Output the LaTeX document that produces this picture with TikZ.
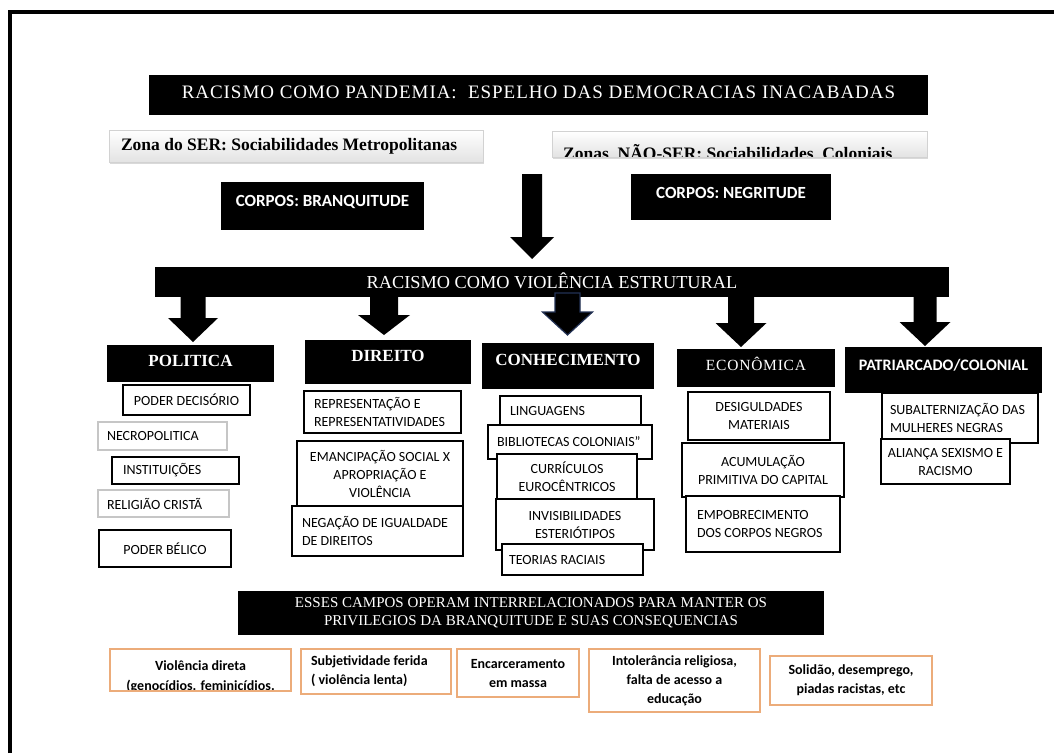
\documentclass[tikz,border=0pt]{standalone}
\usepackage{fontspec}
\setmainfont{Liberation Serif}
\newfontfamily\calibri{Carlito}
\newfontfamily\spacedserif[LetterSpace=5]{Liberation Serif}
\usetikzlibrary{calc, shadows}

\definecolor{conseqline}{RGB}{236,172,122}
\definecolor{arrowblue}{RGB}{35,50,85}

\begin{document}
\begin{tikzpicture}[
    x=1pt, y=-1pt,
    % Styles
    boxsize/.style 2 args={minimum width=#1pt, minimum height=#2pt},
    titlebox/.style={ % black boxes with white text
        rectangle, fill=black, text=white, inner sep=0pt, outer sep=0pt
    },
    field/.style={ % black field headings
        titlebox, font=\bfseries\fontsize{17}{20}\selectfont
    },
    zone/.style={ % shaded zone labels
        rectangle, draw=gray!35, top color=white, bottom color=gray!22,
        drop shadow={shadow xshift=1pt, shadow yshift=-2pt, opacity=0.3},
        inner sep=0pt, font=\bfseries\fontsize{17.5}{20}\selectfont
    },
    item/.style={ % white boxes below the fields
        rectangle, draw, line width=1.1pt, fill=white, inner sep=0pt, outer sep=0pt,
        align=center, font=\calibri\fontsize{14}{18}\selectfont
    },
    itemleft/.style 2 args={ % left aligned item
        item, align=flush left, inner xsep=#1, text width=#2
    },
    conseq/.style={ % orange consequence boxes
        rectangle, draw=conseqline, line width=1.5pt, fill=white, inner sep=0pt,
        align=center, font=\calibri\bfseries\fontsize{14}{19}\selectfont
    },
    inside/.style={ % text clipped by its box
        inner sep=0pt, minimum width=0pt, minimum height=0pt
    }
]

    \useasboundingbox (0,0) rectangle (1054,753);

    % Frame
    \draw[line width=4pt] (9.5,753) -- (9.5,11.5) -- (1054,11.5);

    % Title and zones
    \node[titlebox, boxsize={779}{40}, font=\spacedserif\fontsize{19}{21}\selectfont,
        text height=12.5pt, text depth=5pt] (title) at (538.5,95)
        {RACISMO COMO PANDEMIA:\ \ ESPELHO DAS DEMOCRACIAS INACABADAS};
    \node[zone, inner xsep=12pt, text width=350pt, align=flush left, minimum height=32pt] (zonaSer)
        at (296,146) {Zona do SER: Sociabilidades Metropolitanas};
    \node[zone, boxsize={375}{26}, path picture={
        \node[inside, anchor=base west, font=\bfseries\fontsize{17.5}{20}\selectfont] (zonaNaoText)
            at ($(path picture bounding box.south west)+(11,2)$)
            {Zonas\ \ NÃO-SER: Sociabilidades\ \ Coloniais};
    }] (zonaNao) at (739.5,144) {};

    % Bodies
    \node[titlebox, boxsize={203}{48}, font=\calibri\bfseries\fontsize{17}{20}\selectfont,
        text height=11pt, text depth=11pt] (branq) at (322.5,206) {CORPOS: BRANQUITUDE};
    \node[titlebox, boxsize={200}{46}, font=\calibri\bfseries\fontsize{17}{20}\selectfont,
        text height=11pt, text depth=8pt] (negr) at (731,197) {CORPOS: NEGRITUDE};

    % Structural violence bar
    \node[titlebox, boxsize={794}{30}, font=\fontsize{18.3}{20}\selectfont,
        text height=12pt, text depth=0pt] (bar) at (552,282) {RACISMO COMO VIOLÊNCIA ESTRUTURAL};

    % Main arrow
    \coordinate (mainTop) at (532,174);
    \coordinate (mainTip) at ($(bar.north)+(-20,-8)$);
    \fill ($(mainTop)+(-10,0)$) -- ($(mainTip)+(-10,-22)$) -- ($(mainTip)+(-22,-22)$) -- (mainTip)
        -- ($(mainTip)+(22,-22)$) -- ($(mainTip)+(10,-22)$) -- ($(mainTop)+(10,0)$) -- cycle;

    % Fields
    \node[field, boxsize={167}{37}, text height=11.5pt, text depth=6pt] (pol) at (190.5,363.5) {POLITICA};
    \node[field, boxsize={166}{44}, text height=11.5pt, text depth=12pt] (dir) at (388,362) {DIREITO};
    \node[field, boxsize={172}{46}, text height=11.5pt, text depth=12pt] (con) at (568,366) {CONHECIMENTO};
    \node[titlebox, boxsize={158}{38}, font=\spacedserif\fontsize{15.5}{18}\selectfont,
        text height=10pt, text depth=6pt] (eco) at (756,368) {ECONÔMICA};
    \node[titlebox, boxsize={197}{46}, font=\calibri\bfseries\fontsize{16}{20}\selectfont,
        text height=10.5pt, text depth=10pt] (pat) at (943.5,370) {PATRIARCADO/COLONIAL};

    % Arrows from the bar to the fields
    \coordinate (tipPol) at ($(pol.north)+(2.5,-3)$);
    \coordinate (tipDir) at ($(dir.north)+(-4,-5)$);
    \coordinate (tipCon) at ($(con.north)+(-0.5,-8)$);
    \coordinate (tipEco) at ($(eco.north)+(-15,-2)$);
    \coordinate (tipPat) at ($(pat.north)+(-18.5,-1)$);
    \foreach \tp/\s/\h/\l in {tipPol/12.5/25/24, tipDir/14/26/20, tipEco/13/25.5/24, tipPat/11.5/25.5/24} {
        \fill ($(bar.south -| \tp)+(-\s,-1)$) -- ($(\tp)+(-\s,-\l)$) -- ($(\tp)+(-\h,-\l)$) -- (\tp)
            -- ($(\tp)+(\h,-\l)$) -- ($(\tp)+(\s,-\l)$) -- ($(bar.south -| \tp)+(\s,-1)$) -- cycle;
    }
    \draw[fill=black, draw=arrowblue, line width=1.2pt] ($(bar.south -| tipCon)+(-12.5,-4)$)
        -- ($(tipCon)+(-12.5,-23)$) -- ($(tipCon)+(-25,-23)$) -- (tipCon) -- ($(tipCon)+(25,-23)$)
        -- ($(tipCon)+(12.5,-23)$) -- ($(bar.south -| tipCon)+(12.5,-4)$) -- cycle;

    % Politica
    \node[item, boxsize={127}{30}] (podDec) at (186.5,400) {PODER DECISÓRIO};
    \node[itemleft={9pt}{111pt}, draw=gray!45, minimum height=28pt] (necro) at (162.5,436) {NECROPOLITICA};
    \node[itemleft={11pt}{105pt}, minimum height=27pt] (inst) at (175.5,470.5) {INSTITUIÇÕES};
    \node[itemleft={9pt}{113pt}, draw=gray!45, minimum height=27pt] (relig) at (163.5,503.5) {RELIGIÃO CRISTÃ};
    \node[item, boxsize={132}{37}] (podBel) at (165,548.5) {PODER BÉLICO};

    % Direito
    \node[itemleft={10pt}{137pt}, minimum height=42pt] (repr) at (382.5,412) {REPRESENTAÇÃO E\\REPRESENTATIVIDADES};
    \node[item, boxsize={166}{65}] (emanc) at (380,473.5) {EMANCIPAÇÃO SOCIAL X\\APROPRIAÇÃO E\\VIOLÊNCIA};
    \node[itemleft={10pt}{151pt}, minimum height=50pt] (negac) at (377.5,531) {NEGAÇÃO DE IGUALDADE\\DE DIREITOS};

    % Conhecimento
    \node[itemleft={10pt}{121pt}, minimum height=29pt] (lingu) at (570.5,410.5) {LINGUAGENS};
    \node[itemleft={9pt}{146pt}, minimum height=34pt] (bibli) at (570,442) {BIBLIOTECAS COLONIAIS”};
    \node[item, boxsize={140}{45}] (curri) at (567,476.5) {CURRÍCULOS\\EUROCÊNTRICOS};
    \node[item, boxsize={158}{51}] (invis) at (575,524.5) {INVISIBILIDADES\\ESTERIÓTIPOS};
    \node[itemleft={7pt}{127pt}, minimum height=31pt] (teori) at (572.5,559.5) {TEORIAS RACIAIS};

    % Economica
    \node[item, boxsize={142}{48}] (desig) at (759,416) {DESIGULDADES\\MATERIAIS};
    \node[item, boxsize={162}{54}] (acumu) at (763,470) {ACUMULAÇÃO\\PRIMITIVA DO CAPITAL};
    \node[itemleft={11pt}{132pt}, minimum height=56pt] (empob) at (763,524) {EMPOBRECIMENTO\\DOS CORPOS NEGROS};

    % Patriarcado
    \node[itemleft={8pt}{140pt}, minimum height=50pt] (subal) at (960,418) {SUBALTERNIZAÇÃO DAS\\MULHERES NEGRAS};
    \node[item, boxsize={129}{45}] (alian) at (945.5,461.5) {ALIANÇA SEXISMO E\\RACISMO};

    % Consequences
    \node[titlebox, boxsize={586}{44}, align=center, font=\fontsize{15}{18}\selectfont] (campos) at (531,613)
        {ESSES CAMPOS OPERAM INTERRELACIONADOS PARA MANTER OS\\PRIVILEGIOS DA BRANQUITUDE E SUAS CONSEQUENCIAS};
    \node[conseq, boxsize={181}{42}, path picture={
        \node[inside, anchor=north, align=center, font=\calibri\bfseries\fontsize{14}{20}\selectfont] (violDirText)
            at ($(path picture bounding box.north)+(0,11)$) {Violência direta\\(genocídios. feminicídios.};
    }] (violDir) at (200.5,670) {};
    \node[conseq, align=flush left, inner xsep=10pt, text width=130pt, minimum height=45pt] (subjet) at (376,671.5)
        {Subjetividade ferida\\( violência lenta)};
    \node[conseq, boxsize={122}{48}] (encarc) at (518,673) {Encarceramento\\em massa};
    \node[conseq, boxsize={171}{63}] (intol) at (674.5,680.5) {Intolerância religiosa,\\falta de acesso a\\educação};
    \node[conseq, boxsize={162}{49}] (solid) at (851,680.5) {Solidão, desemprego,\\piadas racistas, etc};

\end{tikzpicture}
\end{document}
